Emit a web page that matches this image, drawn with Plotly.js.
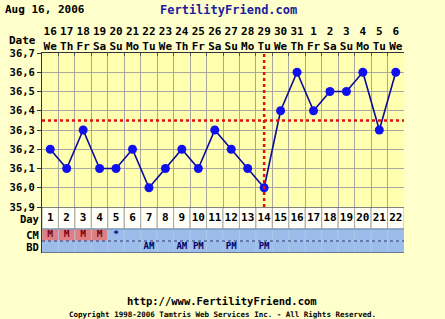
<!DOCTYPE html>
<html><head><meta charset="utf-8">
<script src="https://cdn.plot.ly/plotly-3.0.1.min.js"></script>
<style>html,body{margin:0;padding:0;background:#ffffcc;}#c{width:445px;height:319px;}</style>
</head><body><div id="c"></div>
<script>
const days = [1,2,3,4,5,6,7,8,9,10,11,12,13,14,15,16,17,18,19,20,21,22];
const dateNums = ['16','17','18','19','20','21','22','23','24','25','26','27','28','29','30','31','1','2','3','4','5','6'];
const weekdays = ['We','Th','Fr','Sa','Su','Mo','Tu','We','Th','Fr','Sa','Su','Mo','Tu','We','Th','Fr','Sa','Su','Mo','Tu','We'];
const temps = [36.2,36.1,36.3,36.1,36.1,36.2,36.0,36.1,36.2,36.1,36.3,36.2,36.1,36.0,36.4,36.6,36.4,36.5,36.5,36.6,36.3,36.6];
const cm = ['M','M','M','M','*','','','','','','','','','','','','','','','','',''];
const bd = ['','','','','','','AM','','AM','PM','','PM','','PM','','','','','','','',''];
const coverline = 36.35;
const ovulationDay = 14;
const tempTicks = [35.9,36.0,36.1,36.2,36.3,36.4,36.5,36.6,36.7];

const F = "DejaVu Sans Mono";
const bold = (size, color) => ({family: F, size: size, color: color || '#000', weight: 'bold'});

const cmColors = cm.map(v => v === 'M' ? '#de7f82' : '#9cbde9');
const cmText = cm.map(v => v === 'M' ? '#7a0010' : '#000066');
const boundaries = [0.5].concat(days.map(d => d + 0.5));

const traces = [
  {type:'bar', x:days, y:days.map(()=>22), base:days.map(()=>24), width:days.map(()=>1), xaxis:'x', yaxis:'y2',
   marker:{color:'#fffff8', line:{width:1, color:'#a8a8a0'}}, hoverinfo:'skip'},
  {type:'bar', x:days, y:days.map(()=>12), base:days.map(()=>12), width:days.map(()=>1), xaxis:'x', yaxis:'y2',
   marker:{color:cmColors, line:{width:0.6, color:'#b4cdee'}}, hoverinfo:'skip'},
  {type:'bar', x:days, y:days.map(()=>12), base:days.map(()=>0), width:days.map(()=>1), xaxis:'x', yaxis:'y2',
   marker:{color:'#9cbde9', line:{width:0.6, color:'#b4cdee'}}, hoverinfo:'skip'},
  {type:'scatter', mode:'text', x:days, y:days.map(()=>35), text:days.map(String), xaxis:'x', yaxis:'y2',
   textfont:bold(11), hoverinfo:'skip'},
  {type:'scatter', mode:'text', x:days, y:days.map(()=>18.5), text:cm, xaxis:'x', yaxis:'y2',
   textfont:{family:F, size:9.5, weight:'bold', color:cmText}, hoverinfo:'skip'},
  {type:'scatter', mode:'text', x:days, y:days.map(()=>6), text:bd, xaxis:'x', yaxis:'y2',
   textfont:bold(9, '#000066'), hoverinfo:'skip'},
  {type:'scatter', mode:'lines+markers', x:days, y:temps, xaxis:'x', yaxis:'y',
   line:{color:'#0a0a9a', width:1.6}, marker:{color:'#1010ee', size:9}, hoverinfo:'skip'},
  {type:'scatter', mode:'markers', x:[days[0]], y:[temps[0]], xaxis:'x2', yaxis:'y', marker:{opacity:0}, hoverinfo:'skip'}
];

const layout = {
  width:445, height:319,
  margin:{l:42, r:41, t:53, b:66},
  paper_bgcolor:'#ffffcc', plot_bgcolor:'#ffffb0',
  separators:',.',
  showlegend:false, bargap:0, barmode:'overlay',
  xaxis:{range:[0.5,22.5], side:'top', anchor:'y', tickvals:boundaries, ticktext:boundaries.map(()=>''),
         showgrid:true, gridcolor:'#a8a8a0', gridwidth:1, ticks:'inside', ticklen:3, tickcolor:'#555',
         showline:true, linecolor:'#333', zeroline:false, fixedrange:true},
  xaxis2:{range:[0.5,22.5], overlaying:'x', side:'top', anchor:'y', tickvals:days,
          ticktext:days.map((d,i)=>dateNums[i]+'<br>'+weekdays[i]), ticks:'', showgrid:false,
          tickfont:bold(11), zeroline:false, showline:false},
  yaxis:{domain:[0.23,1], range:[35.9,36.7], tickvals:tempTicks, tickformat:'.1f', showgrid:true,
         gridcolor:'#a8a8a0', ticks:'outside', ticklen:4, tickcolor:'#333', showline:true, linecolor:'#333',
         tickfont:bold(10.5), zeroline:false},
  yaxis3:{overlaying:'y', side:'right', range:[35.9,36.7], tickvals:tempTicks, tickformat:'.1f', showgrid:false,
          ticks:'outside', ticklen:4, tickcolor:'#333', showline:true, linecolor:'#333', tickfont:bold(10.5), zeroline:false},
  yaxis2:{domain:[0,0.23], range:[0,46], anchor:'x', tickvals:[6,18,34], ticktext:['BD','CM','Day'], showgrid:false,
          ticks:'', showline:true, linecolor:'#333', tickfont:bold(10.5), zeroline:false},
  yaxis4:{overlaying:'y2', side:'right', range:[0,46], tickvals:[6,18,34], ticktext:['BD','CM','Day'], showgrid:false,
          ticks:'', showline:true, linecolor:'#333', tickfont:bold(10.5), zeroline:false},
  shapes:[
    {type:'line', xref:'x', yref:'y2', x0:0.5, x1:22.5, y0:46, y1:46, line:{color:'#333', width:1}},
    {type:'line', xref:'x', yref:'y2', x0:0.5, x1:22.5, y0:24, y1:24, line:{color:'#6688aa', width:1}},
    {type:'line', xref:'x', yref:'y2', x0:0.5, x1:22.5, y0:12, y1:12, line:{color:'#223377', width:1, dash:'dot'}},
    {type:'line', xref:'x', yref:'y2', x0:0.5, x1:22.5, y0:0, y1:0, line:{color:'#333', width:1}},
    {type:'line', xref:'x', yref:'y', x0:0.5, x1:22.5, y0:coverline, y1:coverline, line:{color:'#dd1111', width:2.5, dash:'3px,3px'}, layer:'above'},
    {type:'line', xref:'x', yref:'y', x0:ovulationDay, x1:ovulationDay, y0:35.9, y1:36.72, line:{color:'#dd1111', width:2.5, dash:'3px,3px'}, layer:'above'}
  ],
  annotations:[
    {text:'Aug 16, 2006', xref:'paper', yref:'paper', x:(3-42)/362, y:(253-10)/200, xanchor:'left', yanchor:'middle', showarrow:false, font:bold(11)},
    {text:'FertilityFriend.com', xref:'paper', yref:'paper', x:(228-42)/362, y:(253-10)/200, xanchor:'center', yanchor:'middle', showarrow:false, font:bold(12,'#1c1c9c')},
    {text:'Date', xref:'paper', yref:'paper', x:(38-42)/362, y:(253-40)/200, xanchor:'right', yanchor:'middle', showarrow:false, font:bold(11)},
    {text:'http://www.FertilityFriend.com', xref:'paper', yref:'paper', x:(222-42)/362, y:(253-301)/200, xanchor:'center', yanchor:'middle', showarrow:false, font:bold(10.5)},
    {text:'Copyright 1998-2006 Tamtris Web Services Inc. - All Rights Reserved.', xref:'paper', yref:'paper', x:(222-42)/362, y:(253-314)/200, xanchor:'center', yanchor:'middle', showarrow:false, font:bold(7.5)}
  ]
};
Plotly.newPlot('c', traces, layout, {staticPlot:true, displayModeBar:false});
</script></body></html>
